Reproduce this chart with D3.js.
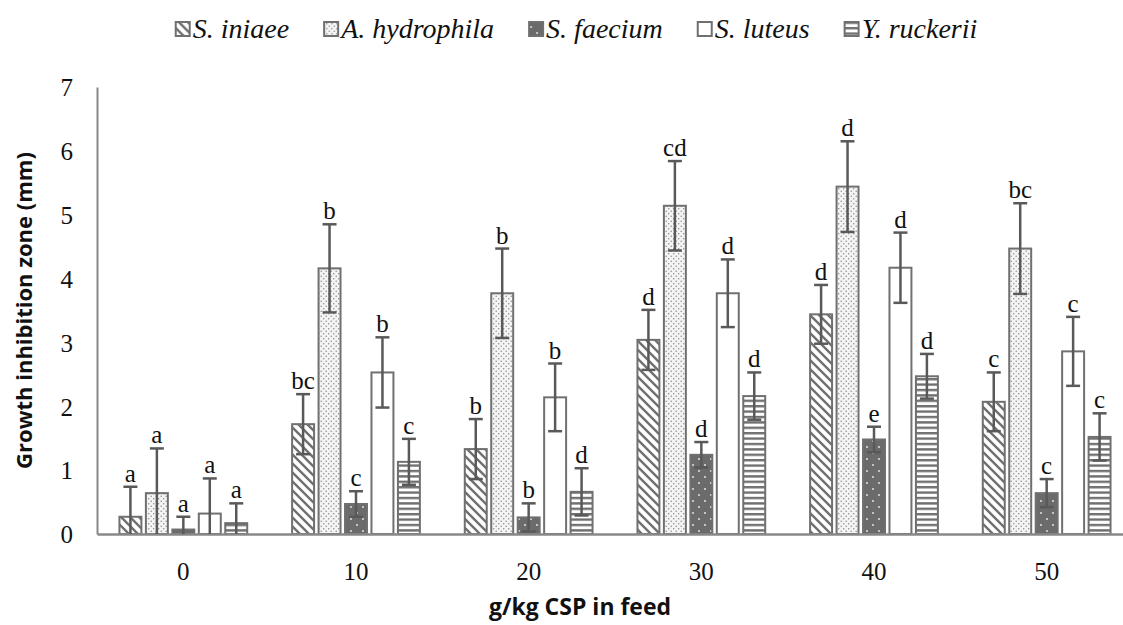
<!DOCTYPE html>
<html lang="en">
<head>
  <meta charset="UTF-8">
  <title>Growth inhibition zone</title>
  <style>
    body, html {
        margin: 0;
        padding: 0;
        background-color: #FFF;
    }
    #chart {
        display: block;
    }
  </style>
</head>
<body>

<svg id="chart" width="1123" height="625"></svg>

<script src="https://d3js.org/d3.v7.min.js"></script>

<script>
/* global d3 */
var doses = ["0", "10", "20", "30", "40", "50"];
var series = ["S. iniaee", "A. hydrophila", "S. faecium", "S. luteus", "Y. ruckerii"];
var yTicks = [0, 1, 2, 3, 4, 5, 6, 7];

// means, error (+/-) and letters read per series
var iniaeeMean = [0.27, 1.72, 1.33, 3.04, 3.44, 2.07];
var iniaeeErr = [0.47, 0.47, 0.47, 0.47, 0.46, 0.46];
var iniaeeLetters = ["a", "bc", "b", "d", "d", "c"];

var hydroMean = [0.64, 4.16, 3.77, 5.14, 5.44, 4.47];
var hydroErr = [0.70, 0.69, 0.70, 0.70, 0.71, 0.71];
var hydroLetters = ["a", "b", "b", "cd", "d", "bc"];

var faeciumMean = [0.07, 0.47, 0.26, 1.24, 1.48, 0.64];
var faeciumErr = [0.20, 0.20, 0.22, 0.20, 0.20, 0.22];
var faeciumLetters = ["a", "c", "b", "d", "e", "c"];

var luteusMean = [0.32, 2.53, 2.14, 3.77, 4.17, 2.86];
var luteusErr = [0.55, 0.55, 0.53, 0.53, 0.55, 0.54];
var luteusLetters = ["a", "b", "b", "d", "d", "c"];

var ruckMean = [0.17, 1.13, 0.66, 2.16, 2.47, 1.52];
var ruckErr = [0.31, 0.36, 0.37, 0.37, 0.35, 0.37];
var ruckLetters = ["a", "c", "d", "d", "d", "c"];

var means = [iniaeeMean, hydroMean, faeciumMean, luteusMean, ruckMean];
var errs = [iniaeeErr, hydroErr, faeciumErr, luteusErr, ruckErr];
var letters = [iniaeeLetters, hydroLetters, faeciumLetters, luteusLetters, ruckLetters];
var fills = ["url(#diag)", "url(#dots)", "url(#dark)", "#FFF", "url(#hlines)"];

var rows = [];
doses.forEach(function (d, i) {
  series.forEach(function (s, j) {
    rows.push({dose: d, series: s, v: means[j][i], e: errs[j][i], letter: letters[j][i], fill: fills[j]});
  });
});

var svg = d3.select("#chart");
var grey = "#707070", dark = "#595959";
var SERIF = "'Liberation Serif', 'Times New Roman', 'DejaVu Serif', serif";

// patterns
var defs = svg.append("defs");
var p = defs.append("pattern").attr("id", "diag").attr("patternUnits", "userSpaceOnUse")
  .attr("width", 9).attr("height", 9);
p.append("rect").attr("width", 9).attr("height", 9).attr("fill", "#FFF");
p.append("path").attr("d", "M-1,-1L10,10M-5.5,3.5L5.5,14.5M3.5,-5.5L14.5,5.5")
  .attr("stroke", grey).attr("stroke-width", 2.4);

p = defs.append("pattern").attr("id", "dots").attr("patternUnits", "userSpaceOnUse")
  .attr("width", 5).attr("height", 5);
p.append("rect").attr("width", 5).attr("height", 5).attr("fill", "#F4F4F4");
p.append("circle").attr("cx", 1.2).attr("cy", 1.2).attr("r", 0.75).attr("fill", "#8a8a8a");
p.append("circle").attr("cx", 3.7).attr("cy", 3.7).attr("r", 0.75).attr("fill", "#8a8a8a");

p = defs.append("pattern").attr("id", "dark").attr("patternUnits", "userSpaceOnUse")
  .attr("width", 12).attr("height", 12);
p.append("rect").attr("width", 12).attr("height", 12).attr("fill", "#6b6b6b");
p.append("circle").attr("cx", 3).attr("cy", 3).attr("r", 0.9).attr("fill", "#EEE");
p.append("circle").attr("cx", 9).attr("cy", 9).attr("r", 0.9).attr("fill", "#EEE");

p = defs.append("pattern").attr("id", "hlines").attr("patternUnits", "userSpaceOnUse")
  .attr("width", 10).attr("height", 5.4);
p.append("rect").attr("width", 10).attr("height", 5.4).attr("fill", "#FFF");
p.append("rect").attr("y", 0).attr("width", 10).attr("height", 2.4).attr("fill", grey);

// scales
var x = d3.scaleBand().domain(doses).range([97, 1133]).paddingInner(0.26).paddingOuter(0.13);
var xs = d3.scaleBand().domain(series).range([0, x.bandwidth()]).paddingInner(0.17);
var y = d3.scaleLinear().domain([0, 7]).range([534, 87]);

// axes
var yAxis = svg.append("g").attr("transform", "translate(97,0)")
  .call(d3.axisLeft(y).tickValues(yTicks).tickFormat(d3.format("d")).tickSize(0).tickPadding(24))
  .attr("font-family", null).attr("font-size", null);
yAxis.select(".domain").attr("stroke", "#888").attr("stroke-width", 2);
yAxis.selectAll("text").style("font-family", SERIF).style("font-size", "25px").attr("fill", "#111")
  .attr("dy", "0.35em");

var bars = svg.append("g");
bars.selectAll("rect").data(rows).enter().append("rect")
  .attr("x", function (d) { return x(d.dose) + xs(d.series); })
  .attr("width", xs.bandwidth())
  .attr("y", function (d) { return y(d.v); })
  .attr("height", function (d) { return y(0) - y(d.v); })
  .attr("fill", function (d) { return d.fill; })
  .attr("stroke", grey)
  .attr("stroke-width", 2);

var xAxis = svg.append("g").attr("transform", "translate(0," + y(0) + ")")
  .call(d3.axisBottom(x).tickSize(0).tickPadding(28))
  .attr("font-family", null).attr("font-size", null);
xAxis.select(".domain").attr("stroke", "#888").attr("stroke-width", 2.5);
xAxis.selectAll("text").style("font-family", SERIF).style("font-size", "25px").attr("fill", "#111");

// error bars
var eb = svg.append("g").attr("stroke", dark).attr("stroke-width", 2.5);
rows.forEach(function (d) {
  var cx = x(d.dose) + xs(d.series) + xs.bandwidth() / 2;
  var hi = y(d.v + d.e), lo = y(Math.max(0, d.v - d.e));
  eb.append("line").attr("x1", cx).attr("x2", cx).attr("y1", hi).attr("y2", lo);
  eb.append("line").attr("x1", cx - 7).attr("x2", cx + 7).attr("y1", hi).attr("y2", hi);
  if (d.v - d.e > 0) eb.append("line").attr("x1", cx - 7).attr("x2", cx + 7).attr("y1", lo).attr("y2", lo);
});

// letters
svg.append("g").selectAll("text").data(rows).enter().append("text")
  .attr("x", function (d) { return x(d.dose) + xs(d.series) + xs.bandwidth() / 2; })
  .attr("y", function (d) { return y(d.v + d.e) - 5; })
  .attr("text-anchor", "middle")
  .style("font-family", SERIF).style("font-size", "25px").attr("fill", "#111")
  .text(function (d) { return d.letter; });

// axis titles
svg.append("text").attr("transform", "translate(32," + ((y(0) + y(7)) / 2) + ") rotate(-90)")
  .attr("text-anchor", "middle")
  .attr("font-family", "Open Sans").attr("font-weight", "bold").attr("font-size", 22).attr("fill", "#111")
  .text("Growth inhibition zone (mm)");

svg.append("text").attr("x", 580).attr("y", 615)
  .attr("text-anchor", "middle")
  .attr("font-family", "Open Sans").attr("font-weight", "bold").attr("font-size", 23).attr("fill", "#111")
  .text("g/kg CSP in feed");

// legend
var leg = svg.append("g");
var lx = 0;
series.forEach(function (s, j) {
  var item = leg.append("g").attr("transform", "translate(" + lx + ",0)");
  item.append("rect").attr("x", 1).attr("y", 22).attr("width", 14).attr("height", 14)
    .attr("fill", fills[j]).attr("stroke", grey).attr("stroke-width", 2);
  var t = item.append("text").attr("x", 18).attr("y", 38)
    .style("font-family", SERIF).style("font-style", "italic").style("font-size", "28px").attr("fill", "#111")
    .text(s);
  lx += 18 + t.node().getComputedTextLength() + 34;
});
lx -= 34;
leg.attr("transform", "translate(" + (576 - lx / 2) + ",0)");
</script>

</body>
</html>
